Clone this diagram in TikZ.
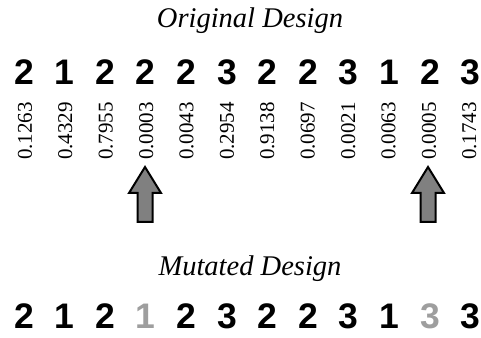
\documentclass[tikz,border=0pt]{standalone}
\usepackage{fontspec}
\setmainfont{Liberation Serif}
\newfontfamily\digitfont{Liberation Sans}
\begin{document}
\begin{tikzpicture}[x=1pt,y=1pt,
  title/.style={anchor=base,inner sep=0pt,font=\fontsize{28.5}{32}\selectfont\itshape},
  gene/.style={anchor=base,inner sep=0pt,font=\digitfont\bfseries\fontsize{35.5}{40}\selectfont},
  mutgene/.style={gene,text=black!38},
  prob/.style={rotate=90,anchor=center,inner sep=0pt,font=\fontsize{21}{24}\selectfont},
  arrowbox/.style={draw=black,fill=black!50,line width=2pt,line join=miter},
  uparrow/.pic={\draw[arrowbox] (-7.5,1) -- (-7.5,30) -- (-16,30) -- (0,56) -- (16,30) -- (7.5,30) -- (7.5,1) -- cycle;}
]
\useasboundingbox (0,0) rectangle (481,337);
\node[title] (t1) at (250,309) {Original Design};
\node[title] (t2) at (250,62) {Mutated Design};
\foreach \g [count=\i from 0] in {2,1,2,2,2,3,2,2,3,1,2,3}
  \node[gene] (g\i) at (24+40.6*\i,252) {\g};
\foreach \p [count=\i from 0] in {0.1263,0.4329,0.7955,0.0003,0.0043,0.2954,0.9138,0.0697,0.0021,0.0063,0.0005,0.1743}
  \node[prob] (p\i) at (25+40.4*\i,206) {\p};
\foreach \g/\s [count=\i from 0] in {2/gene,1/gene,2/gene,1/mutgene,2/gene,3/gene,2/gene,2/gene,3/gene,1/gene,3/mutgene,3/gene}
  \node[\s] (m\i) at (24+40.6*\i,9) {\g};
\coordinate (a1) at (145,114);
\coordinate (a2) at (428,114);
\pic at (a1) {uparrow};
\pic at (a2) {uparrow};
\end{tikzpicture}
\end{document}
